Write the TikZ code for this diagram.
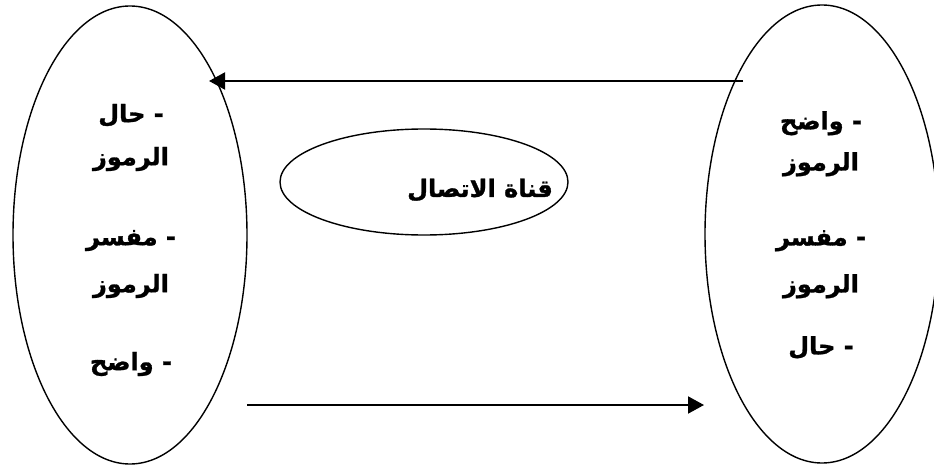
\documentclass[tikz,border=0pt]{standalone}
\usepackage{fontspec}
\newfontfamily\arabicfont[Script=Arabic, BoldFont={DejaVu Sans Bold}, BoldFeatures={FakeBold=1.2}]{DejaVu Sans}
\TeXXeTstate=1
\usepackage{tikz}
\usetikzlibrary{shapes.geometric, arrows.meta, positioning}

\newcommand{\artxt}[1]{\beginR #1\endR}
\newcommand{\itemdash}{\ \mbox{-}}

\begin{document}
\begin{tikzpicture}[x=1pt, y=-1pt]
        \tikzstyle{party} = [ellipse, draw, line width=1.4pt, minimum width=234pt, minimum height=458pt, inner sep=0pt]
        \tikzstyle{channelbox} = [ellipse, draw, line width=1.4pt, minimum width=288pt, minimum height=106pt, inner sep=0pt]
        \tikzstyle{lbl} = [align=center, inner sep=0pt, font=\arabicfont\bfseries\fontsize{24}{44}\selectfont]
        \tikzstyle{line} = [draw, line width=2pt, -{Triangle[length=16pt, width=17pt]}]

        \useasboundingbox (0,0) rectangle (934,468);
        \clip (0,0) rectangle (934,468);

        % Nodes
        \node [party] (sender) at (130,235) {};
        \node [party] (receiver) at (822,234) {};
        \node [channelbox] (channel) at (424,182) {};

        \node [lbl] (sendertext) at (131,240) {حال\itemdash\\[-1pt] الرموز\\[36pt] مفسر\itemdash\\[3pt] الرموز\\[34pt] واضح\itemdash};
        \node [lbl] (receivertext) at (821,235) {واضح\itemdash\\[-3pt] الرموز\\[31pt] مفسر\itemdash\\[3pt] الرموز\\[18pt] حال\itemdash};
        \node [lbl] (channellabel) at (480,190) {\artxt{قناة الاتصال}};

        \coordinate (topstart) at (743,81);
        \coordinate (toptip) at (209,81);
        \coordinate (botstart) at (247,405);
        \coordinate (bottip) at (704,405);

        % Paths
        \path [line] (topstart) -- (toptip);
        \path [line] (botstart) -- (bottip);
    \end{tikzpicture}
\end{document}
